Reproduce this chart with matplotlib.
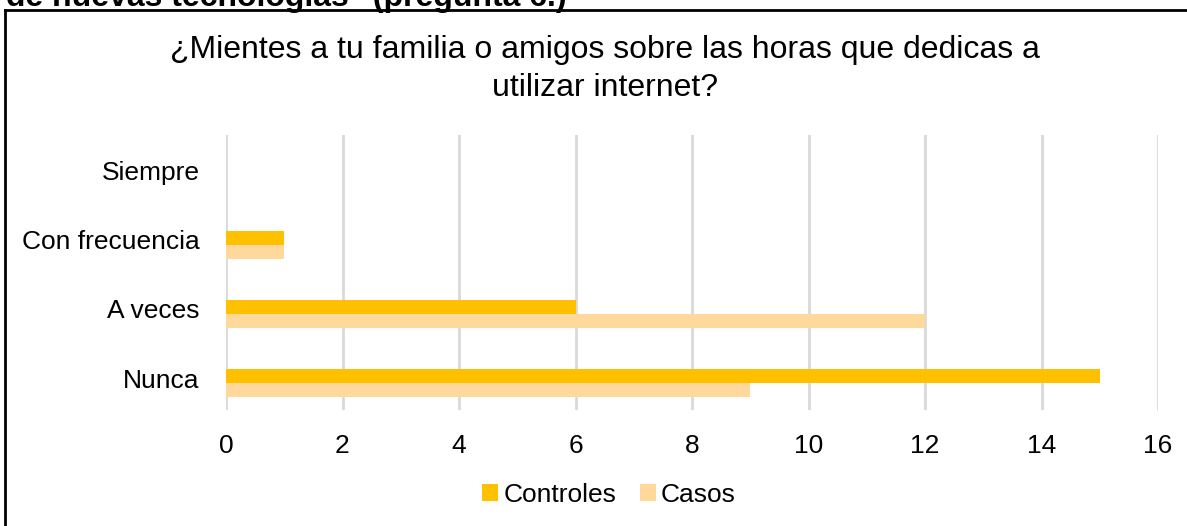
import matplotlib.pyplot as plt
import matplotlib.transforms as mtransforms
from matplotlib.lines import Line2D
import numpy as np

plt.rcParams['font.family'] = ['Liberation Sans', 'DejaVu Sans']

categories = ["Nunca", "A veces", "Con frecuencia", "Siempre"]
controles = [15, 6, 1, 0]
casos = [9, 12, 1, 0]
xticks = [0, 2, 4, 6, 8, 10, 12, 14, 16]

W, H = 1187, 526
fig = plt.figure(figsize=(W / 100, H / 100), dpi=100)

# plot area in pixels: x 226..1158, y 135..410
ax = fig.add_axes([226 / W, 1 - 410 / H, (1158 - 226) / W, (410 - 135) / H])

y = np.arange(len(categories))
h = 0.2
ax.barh(y + h / 2, controles, height=h, color="#FFC000", label="Controles", zorder=3)
ax.barh(y - h / 2, casos, height=h, color="#FFD89C", label="Casos", zorder=3)

ax.set_xlim(0, 16)
ax.set_ylim(-0.39, 3.59)
ax.set_xticks(xticks)
ax.set_yticks(y)
ax.set_yticklabels(categories)
ax.tick_params(axis="both", length=0, labelsize=19)
ax.tick_params(axis="x", pad=17)
ax.tick_params(axis="y", pad=19)
ax.grid(axis="x", color="#D9D9D9", linewidth=2, zorder=0)
for s in ax.spines.values():
    s.set_visible(False)

# category labels sit a little above the bar-group centre
shift = mtransforms.ScaledTranslation(0, 5 / 100, fig.dpi_scale_trans)
for lbl in ax.get_yticklabels():
    lbl.set_transform(lbl.get_transform() + shift)

fig.text(605 / W, 1 - 69 / H,
         "¿Mientes a tu familia o amigos sobre las horas que dedicas a\nutilizar internet?",
         ha="center", va="center", fontsize=23, linespacing=1.38)

fig.legend(loc="center", bbox_to_anchor=(609 / W, 1 - 495 / H), ncol=2, frameon=False,
           fontsize=19, handlelength=0.6, handleheight=0.6, handletextpad=0.2, columnspacing=0.9)

# clipped caption of the page above the chart
fig.text(6 / W, 1 - 6 / H, "de nuevas tecnologías\" (pregunta 6.)",
         ha="left", va="baseline", fontsize=23, fontweight="bold")

# chart border (left and top edges)
fig.add_artist(Line2D([5 / W, 5 / W], [0, 1 - 10 / H], color="black", linewidth=2))
fig.add_artist(Line2D([5 / W, 1], [1 - 10 / H, 1 - 10 / H], color="black", linewidth=2))

fig.savefig("out.png", dpi=100)
